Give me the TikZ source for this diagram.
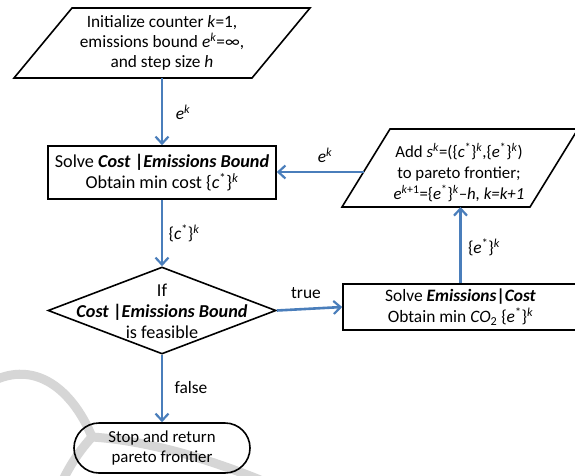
\documentclass[tikz,border=0pt]{standalone}
\usepackage{fontspec}
\setmainfont{Carlito}
\usetikzlibrary{shapes.geometric,shapes.misc,arrows.meta}
\definecolor{arrblue}{HTML}{4A7EBB}
\definecolor{wmgray}{HTML}{D6D6D6}
\begin{document}
\begin{tikzpicture}[x=1pt,y=-1pt,
  outline/.style={draw=black,line width=1.6pt,inner sep=0pt},
  txt/.style={align=center,font=\fontsize{16.8}{20.8}\selectfont,inner sep=0pt},
  bigtxt/.style={align=center,font=\fontsize{18.2}{21}\selectfont,inner sep=0pt},
  midtxt/.style={align=center,font=\fontsize{17.4}{21}\selectfont,inner sep=0pt},
  flow/.style={draw=arrblue,line width=2.6pt,-{Straight Barb[length=7pt,width=13pt,line width=2.2pt]}},
  lbl/.style={font=\fontsize{17.4}{20}\selectfont,inner sep=0pt},
  wm/.style={draw=wmgray,line width=9pt,line cap=round}]
\useasboundingbox (0,0) rectangle (575,475);
\fill[white] (0,0) rectangle (575,475);
% watermark arcs
\draw[wm] (-5,380) .. controls (40,360) and (75,395) .. (92,437);
\draw[wm] (92,437) .. controls (80,450) and (70,465) .. (62,482);
\draw[wm] (92,437) .. controls (140,440) and (200,455) .. (265,482);
% initialisation parallelogram
\draw[outline,line join=miter] (72,8) -- (310,8) -- (252,78) -- (14,78) -- cycle;
\node[txt,font=\fontsize{17.3}{20.3}\selectfont] (init) at (162,43) {Initialize counter \textit{k}=1,\\emissions bound \textit{e}\textsuperscript{\textit{k}}=∞,\\and step size \textit{h}};
\coordinate (initB) at (162,78);
% solve cost box
\node[outline,minimum width=228pt,minimum height=53pt,bigtxt] (solve) at (162,172.5)
  {Solve \textbf{\textit{Cost} |\textit{Emissions Bound}}\\Obtain min cost \{\textit{c}\textsuperscript{*}\}\textsuperscript{\textit{k}}};
% decision
\node[outline,diamond,minimum width=228pt,minimum height=87pt] (dec) at (162,310.5) {};
\node[bigtxt] (decT) at (162,311) {If\\\textbf{\textit{Cost} |\textit{Emissions Bound}}\\is feasible};
% emissions box
\node[outline,minimum width=235pt,minimum height=46pt,midtxt] (emis) at (460.5,307)
  {Solve \textbf{\textit{Emissions}|\textit{Cost}}\\Obtain min \textit{CO}\textsubscript{2} \{\textit{e}\textsuperscript{*}\}\textsuperscript{\textit{k}}};
% add parallelogram
\draw[outline,line join=miter] (390,129) -- (578,129) -- (530,207) -- (342,207) -- cycle;
\node[txt] (add) at (459,172.5) {Add \textit{s}\textsuperscript{\textit{k}}=(\{\textit{c}\textsuperscript{*}\}\textsuperscript{\textit{k}},\{\textit{e}\textsuperscript{*}\}\textsuperscript{\textit{k}})\\to pareto frontier;\\\textit{e}\textsuperscript{\textit{k}+1}=\{\textit{e}\textsuperscript{*}\}\textsuperscript{\textit{k}}\textit{–h, k=k+1}};
\coordinate (addB) at (460.5,207);
\coordinate (addL) at (363.5,172);
% stop
\node[outline,rounded rectangle,minimum width=176pt,minimum height=50pt,txt] (stop) at (162,448)
  {Stop and return\\pareto frontier};
% connectors
\draw[flow] (initB) -- (solve.north);
\draw[flow] (solve.south) -- (dec.north);
\draw[flow] (dec.south) -- (stop.north);
\draw[flow] (dec.east) -- (emis.west);
\draw[flow] (emis.north) -- (addB);
\draw[flow] (addL) -- (addL -| solve.east);
% labels
\node[lbl] (l1) at (183,112) {\textit{e}\textsuperscript{\textit{k}}};
\node[lbl] (l2) at (184,233) {\{\textit{c}\textsuperscript{*}\}\textsuperscript{\textit{k}}};
\node[lbl] (l3) at (191,388) {false};
\node[lbl] (l4) at (306,293) {true};
\node[lbl] (l5) at (325,155) {\textit{e}\textsuperscript{\textit{k}}};
\node[lbl] (l6) at (484,247) {\{\textit{e}\textsuperscript{*}\}\textsuperscript{\textit{k}}};
\end{tikzpicture}
\end{document}
